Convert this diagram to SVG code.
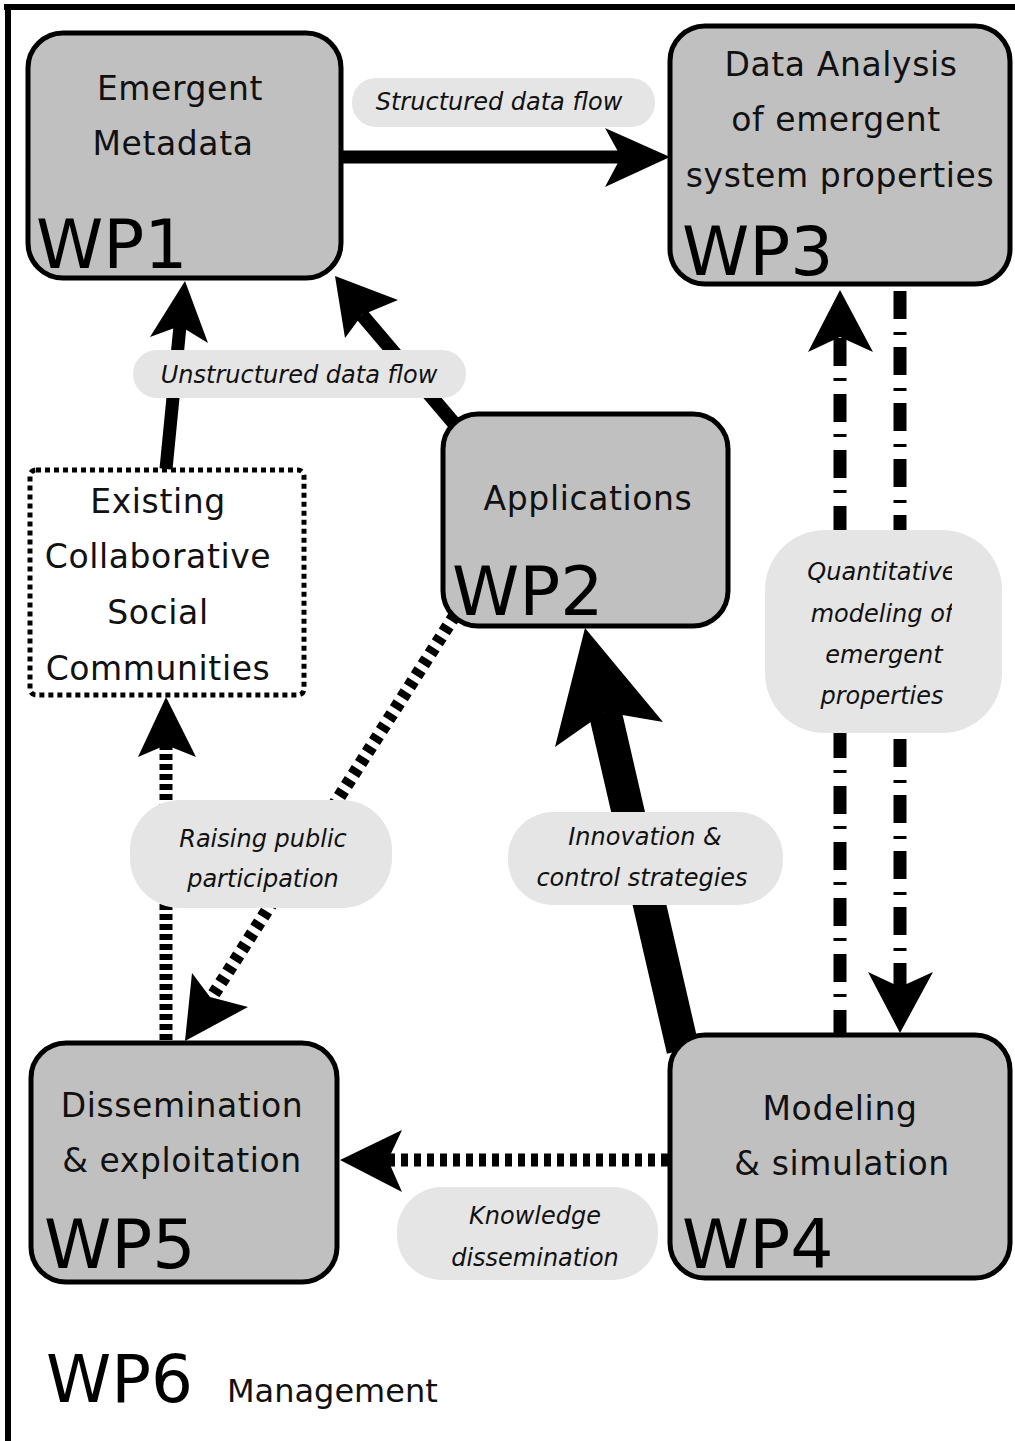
<svg xmlns="http://www.w3.org/2000/svg" width="1015" height="1441" viewBox="0 0 1015 1441">
<style>
.node{fill:#c0c0c0;stroke:#000;stroke-width:5}
.dotbox{fill:#fff;stroke:#000;stroke-width:5;stroke-dasharray:5 4}
.t{font-family:"DejaVu Sans",sans-serif;font-size:33px;letter-spacing:0.6px;fill:#111;text-anchor:middle}
.wp{font-family:"DejaVu Sans",sans-serif;font-size:68px;fill:#000}
.pill{fill:#e5e5e5}
.lt{font-family:"DejaVu Sans",sans-serif;font-style:italic;font-size:24px;fill:#111;text-anchor:middle}
.solid{fill:none;stroke:#000}
.dot{fill:none;stroke:#000;stroke-width:13;stroke-dasharray:6 4}
.dot2{fill:none;stroke:#000;stroke-width:13;stroke-dasharray:7 6}
.dd{fill:none;stroke:#000;stroke-width:13;stroke-dasharray:28 13 3 12}
.head{fill:#000}
</style>
<defs>
<clipPath id="qclip"><rect x="760" y="520" width="192" height="220"/></clipPath>
</defs>
<g id="frame">
<line x1="4" y1="7" x2="1015" y2="7" stroke="#000" stroke-width="6"/>
<line x1="8" y1="4" x2="8" y2="1441" stroke="#000" stroke-width="6"/>
</g>
<g id="connectors">
<!-- WP1 -> WP3 -->
<line class="solid" x1="341" y1="157" x2="622" y2="157" stroke-width="13"/>
<path class="head" d="M670,157 L605,128 L621,157 L605,187 Z"/>
<!-- Existing -> WP1 -->
<line class="solid" x1="166" y1="469" x2="180" y2="326" stroke-width="13"/>
<path class="head" d="M185,281 L150,337 L180,326 L208,343 Z"/>
<!-- WP2 -> WP1 -->
<line class="solid" x1="458" y1="428" x2="362" y2="315" stroke-width="14"/>
<path class="head" d="M335,276 L345,338 L362,315 L398,300 Z"/>
<!-- WP4 -> WP2 -->
<line class="solid" x1="683" y1="1050" x2="605" y2="712" stroke-width="33"/>
<path class="head" d="M585,628 L555,747 L605,712 L663,722 Z"/>
<!-- WP3 -> WP4 -->
<line class="dd" x1="900" y1="291" x2="900" y2="988"/>
<path class="head" d="M900,1033 L868,972 L900,987 L933,972 Z"/>
<!-- WP4 -> WP3 -->
<line class="dd" x1="840" y1="1038" x2="840" y2="337"/>
<path class="head" d="M840,290 L808,352 L840,337 L873,352 Z"/>
<!-- WP5 -> Existing -->
<line class="dot" x1="166" y1="1040" x2="166" y2="745"/>
<path class="head" d="M166,697 L138,757 L166,745 L196,757 Z"/>
<!-- WP2 -> WP5 -->
<line class="dot2" x1="455" y1="615" x2="210" y2="1000" stroke-width="12"/>
<path class="head" d="M185,1041 L192,973 L210,997 L248,1007 Z"/>
<!-- WP4 -> WP5 -->
<line class="dot2" x1="668" y1="1160" x2="388" y2="1160"/>
<path class="head" d="M340,1160 L402,1130 L388,1160 L402,1192 Z"/>
</g>
<g id="wp1">
<rect class="node" x="28" y="33" width="313" height="245" rx="35"/>
<text class="t" x="180" y="100">Emergent</text>
<text class="t" x="173" y="155">Metadata</text>
<text class="wp" x="36" y="268">WP1</text>
</g>
<g id="wp3">
<rect class="node" x="670" y="26" width="340" height="258" rx="35"/>
<text class="t" x="841" y="76">Data Analysis</text>
<text class="t" x="836" y="131">of emergent</text>
<text class="t" x="840" y="187">system properties</text>
<text class="wp" x="682" y="275">WP3</text>
</g>
<g id="wp2">
<rect class="node" x="443" y="414" width="285" height="212" rx="35"/>
<text class="t" x="588" y="510">Applications</text>
<text class="wp" x="452" y="615">WP2</text>
</g>
<g id="existing">
<rect class="dotbox" x="30" y="470" width="274" height="225" rx="6"/>
<text class="t" x="158" y="513">Existing</text>
<text class="t" x="158" y="568">Collaborative</text>
<text class="t" x="158" y="624">Social</text>
<text class="t" x="158" y="680">Communities</text>
</g>
<g id="wp5">
<rect class="node" x="31" y="1043" width="306" height="239" rx="35"/>
<text class="t" x="182" y="1117">Dissemination</text>
<text class="t" x="182" y="1172">&amp; exploitation</text>
<text class="wp" x="44" y="1268">WP5</text>
</g>
<g id="wp4">
<rect class="node" x="670" y="1035" width="340" height="243" rx="35"/>
<text class="t" x="840" y="1120">Modeling</text>
<text class="t" x="842" y="1175">&amp; simulation</text>
<text class="wp" x="682" y="1268">WP4</text>
</g>
<g id="wp6">
<text class="wp" x="46" y="1402" style="font-size:66px">WP6</text>
<text x="227" y="1402" style="font-family:'DejaVu Sans',sans-serif;font-size:32px;fill:#111">Management</text>
</g>
<g id="labels">
<rect class="pill" x="352" y="78" width="303" height="49" rx="24"/>
<text class="lt" x="499" y="110">Structured data flow</text>
<rect class="pill" x="133" y="350" width="333" height="48" rx="24"/>
<text class="lt" x="299" y="383">Unstructured data flow</text>
<rect class="pill" x="765" y="530" width="237" height="203" rx="60"/>
<g clip-path="url(#qclip)">
<text class="lt" x="882" y="580">Quantitative</text>
<text class="lt" x="882" y="622">modeling of</text>
<text class="lt" x="884" y="663">emergent</text>
<text class="lt" x="882" y="704">properties</text>
</g>
<rect class="pill" x="130" y="800" width="262" height="108" rx="50"/>
<text class="lt" x="263" y="847">Raising public</text>
<text class="lt" x="263" y="887">participation</text>
<rect class="pill" x="508" y="812" width="275" height="93" rx="45"/>
<text class="lt" x="645" y="845">Innovation &amp;</text>
<text class="lt" x="642" y="886">control strategies</text>
<rect class="pill" x="397" y="1187" width="261" height="93" rx="45"/>
<text class="lt" x="535" y="1224">Knowledge</text>
<text class="lt" x="535" y="1266">dissemination</text>
</g>
</svg>
